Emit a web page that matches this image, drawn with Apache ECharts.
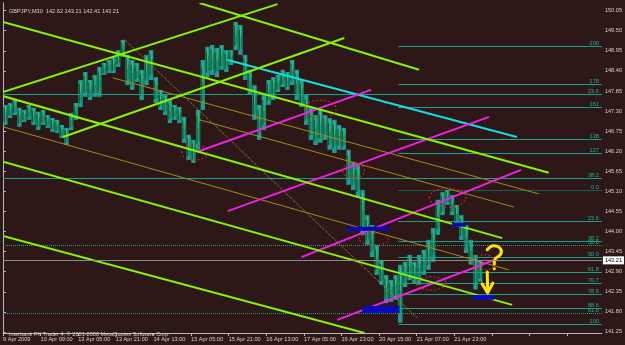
<!DOCTYPE html>
<html><head><meta charset="utf-8">
<style>html,body{margin:0;padding:0;background:#2e1717}#c{width:625px;height:345px}</style>
<script src="https://cdn.jsdelivr.net/npm/echarts@6.0.0/dist/echarts.min.js"></script>
</head><body><div id="c"></div>
<script>
// ---- data (x in 2-hour bar units, y in price) ----
const xTickLabels = ['9 Apr 2009','10 Apr 09:00','13 Apr 05:00','13 Apr 21:00','14 Apr 13:00','15 Apr 05:00','15 Apr 21:00','16 Apr 13:00','17 Apr 05:00','19 Apr 23:00','20 Apr 15:00','21 Apr 07:00','21 Apr 23:00'];
const priceTicks = [141.25,141.80,142.35,142.90,143.45,144.00,144.55,145.10,145.65,146.20,146.75,147.30,147.85,148.40,148.95,149.50,150.05];
const headerText = 'GBPJPY,M30  142.62 143.21 142.41 143.21';
const footerText = 'Interbank FX Trader 4, \u00a9 2001-2008 MetaQuotes Software Corp.';
const lastPrice = 143.21;

const barHigh = [147.47,147.52,147.60,147.39,147.33,147.47,147.39,147.28,147.33,147.19,
147.11,147.06,146.92,146.84,147.25,147.52,148.15,148.37,148.15,148.29,
148.51,148.62,148.70,148.78,148.97,149.25,148.84,148.70,148.62,148.43,
148.84,148.97,148.23,147.88,147.74,147.60,147.47,147.41,147.14,146.65,
146.51,147.33,148.70,149.06,149.11,149.03,149.11,148.97,148.97,149.74,
149.66,148.84,148.43,148.01,147.47,147.74,148.15,148.23,148.29,148.43,
148.37,148.70,148.43,148.15,147.74,147.41,147.19,147.33,147.19,147.11,
147.06,146.92,146.84,146.24,145.91,145.82,145.14,144.45,144.18,143.63,
143.22,142.81,142.67,142.81,143.09,143.17,143.36,143.17,143.36,143.50,
143.77,144.10,144.87,145.08,145.14,145.00,144.73,144.45,144.18,143.77,
143.36,143.21];
const barLow = [146.92,147.11,147.19,146.87,147.00,147.06,146.92,146.78,146.92,146.84,
146.73,146.70,146.56,146.37,146.78,147.06,147.41,147.69,147.60,147.69,
147.69,148.29,148.34,148.34,148.51,148.78,148.01,147.88,148.10,147.60,
148.01,148.15,147.52,147.33,147.19,146.97,147.06,146.97,146.43,145.96,
145.88,146.24,147.33,148.23,148.29,148.23,148.43,148.37,148.56,148.97,
148.84,148.15,147.74,147.06,146.51,146.78,147.47,147.60,147.82,147.96,
147.88,148.01,147.60,147.41,146.92,146.51,146.37,146.43,146.51,146.24,
146.15,146.24,146.24,145.28,145.14,144.95,143.91,143.63,143.30,142.81,
142.54,142.04,142.07,142.13,141.50,142.48,142.67,142.59,142.54,142.81,
142.95,143.17,143.91,144.45,144.73,144.45,144.18,143.77,143.41,143.09,
142.41,142.62];

// trend lines: [x1, p1, x2, p2]
const limeLines = [
  [0, 147.82, 58.4, 150.23],
  [12.74, 146.59, 72.6, 149.30],
  [41.8, 150.26, 88.5, 148.43],
  [0, 149.74, 116.1, 145.61],
  [0, 147.71, 106.2, 143.82],
  [0, 145.91, 108.3, 141.99],
  [0, 143.88, 76.9, 141.22]
];
const oliveLines = [
  [23.35, 148.21, 114.0, 145.03],
  [0, 146.87, 107.6, 142.95],
  [41.8, 147.06, 108.7, 144.67]
];
const steepLines = [[25.9, 149.25, 88.1, 141.63]];
const magentaLines = [
  [41.2, 146.18, 78.3, 147.88],
  [47.8, 144.56, 103.4, 147.14],
  [63.5, 143.30, 110.2, 145.69],
  [71.1, 141.58, 104.5, 143.22]
];
const cyanLines = [[47.8, 148.70, 109.3, 146.59]];

// Fibonacci levels
const fibBStart = 84.1;
const fibBLevels = [149.08,148.03,147.40,146.54,146.14,145.13,144.28,143.75,143.31,142.89,142.58,142.28,141.91,141.48];
const fibBLabels = ['200','178','161','138','127','0.0','23.6','38.2','50.0','61.8','70.7','78.6','88.6','100'];
const fibALevels = [147.76,145.46,143.62,141.76];
const fibALabels = ['23.6','38.2','50.0','61.8'];

// boxes: [x1, x2, pTop, pBottom]
const blueBoxes = [
  [73.2, 82.2, 144.13, 144.02],
  [95.5, 98.5, 144.24, 144.13],
  [76.4, 84.3, 141.96, 141.77],
  [99.8, 104.5, 142.26, 142.13]
];
const redEllipses = [
  [38.0, 43.5, 146.37, 145.96],
  [64.1, 70.9, 147.60, 147.11],
  [72.2, 76.9, 145.88, 145.47],
  [75.8, 82.0, 143.95, 143.63],
  [90.7, 98.5, 145.19, 144.67],
  [87.9, 94.3, 142.76, 142.40],
  [99.8, 104.9, 143.36, 142.95]
];
// hand-drawn yellow marks: polylines of [x, p]
const questionPath = [[103.0,143.50],[104.2,143.61],[105.7,143.55],[105.9,143.39],[104.7,143.25],[104.5,143.11]];
const questionDot = [104.5, 142.98];
const arrowShaft = [[103.0,142.89],[103.1,142.34]];
const arrowHead = [[101.9,142.57],[103.1,142.32],[104.2,142.59]];

// ---- chart ----
const X_MAX = 127.39, Y_MIN = 141.22, Y_MAX = 150.26;
const FONT = '"Liberation Sans", Arial, sans-serif';
const txt = '#d4d4d4';
const chart = echarts.init(document.getElementById('c'));

function segSeries(data, color, width, dash) {
  return {
    type: 'custom', coordinateSystem: 'cartesian2d', clip: true, silent: true,
    encode: {x: [0, 2], y: [1, 3]}, data: data,
    renderItem: function (params, api) {
      const a = api.coord([api.value(0), api.value(1)]);
      const b = api.coord([api.value(2), api.value(3)]);
      return {type: 'line', shape: {x1: a[0], y1: a[1], x2: b[0], y2: b[1]},
        style: {stroke: color, lineWidth: width, lineDash: dash || null}};
    }
  };
}
function fibSeries(start, levels, labels, dashed) {
  return {
    type: 'custom', coordinateSystem: 'cartesian2d', clip: true, silent: true,
    encode: {x: 0, y: 1}, data: levels.map(p => [start, p]),
    renderItem: function (params, api) {
      const a = api.coord([api.value(0), api.value(1)]);
      const b = api.coord([X_MAX, api.value(1)]);
      const y = Math.round(a[1]) + 0.5;
      const d = dashed[params.dataIndex];
      return {type: 'group', children: [
        {type: 'line', shape: {x1: a[0], y1: y, x2: b[0], y2: y},
          style: {stroke: '#17a08c', lineWidth: 1, lineDash: d ? [1, 1] : null}},
        {type: 'text', style: {text: labels[params.dataIndex], x: b[0] - 3, y: y - 0.5,
          fill: '#1fb09c', font: '5.6px ' + FONT, align: 'right', verticalAlign: 'bottom',
          textAlign: 'right', textVerticalAlign: 'bottom'}}
      ]};
    }
  };
}

const option = {
  backgroundColor: '#2e1717',
  animation: false,
  title: [
    {text: headerText, left: 4, top: 3, textStyle: {color: txt, fontSize: 5.6, fontWeight: 'normal', fontFamily: FONT}},
    {text: footerText, left: 4, top: 326, textStyle: {color: txt, fontSize: 5.6, fontWeight: 'normal', fontFamily: FONT}}
  ],
  grid: {left: 3, right: 22, top: 3, bottom: 12, containLabel: false},
  xAxis: {
    type: 'value', min: 0, max: X_MAX, interval: 8,
    axisLine: {show: true, lineStyle: {color: '#b8b8b8', width: 1}},
    axisTick: {show: true, length: 3, lineStyle: {color: '#b8b8b8'}},
    splitLine: {show: false},
    axisLabel: {color: txt, fontSize: 5.6, fontFamily: FONT, margin: 3, align: 'left',
      showMaxLabel: false,
      formatter: v => xTickLabels[Math.round(v / 8)] || ''}
  },
  yAxis: [{
    type: 'value', position: 'right', min: Y_MIN, max: Y_MAX,
    axisLine: {show: true, lineStyle: {color: '#b8b8b8', width: 1}},
    axisTick: {show: true, length: 3, inside: false, customValues: priceTicks, lineStyle: {color: '#b8b8b8'}},
    splitLine: {show: false},
    axisLabel: {color: txt, fontSize: 5.6, fontFamily: FONT, margin: 3, customValues: priceTicks,
      formatter: v => v.toFixed(2)}
  }, {
    type: 'value', position: 'left', min: Y_MIN, max: Y_MAX,
    axisLine: {show: true, lineStyle: {color: '#b8b8b8', width: 1}},
    axisTick: {show: false}, axisLabel: {show: false}, splitLine: {show: false}
  }],
  series: [
    // price bars
    {
      type: 'custom', coordinateSystem: 'cartesian2d', clip: true, silent: true,
      encode: {x: 0, y: [1, 2]},
      data: barHigh.map((h, i) => [i + 0.5, h, barLow[i]]),
      renderItem: function (params, api) {
        const hi = api.coord([api.value(0), api.value(1)]);
        const lo = api.coord([api.value(0), api.value(2)]);
        const w = 4.4, h = Math.max(1, lo[1] - hi[1]);
        return {type: 'group', children: [
          {type: 'rect', shape: {x: hi[0] - w / 2, y: hi[1], width: w, height: h}, style: {fill: '#1d9c90'}},
          {type: 'rect', shape: {x: hi[0] - w / 2 + 0.5, y: hi[1] + h * 0.15, width: 1.2, height: h * 0.7}, style: {fill: '#0c5c2c'}},
          {type: 'rect', shape: {x: hi[0] + 0.8, y: hi[1] + h * 0.3, width: 1, height: h * 0.5}, style: {fill: '#177a3e'}},
          {type: 'rect', shape: {x: hi[0] - 0.3, y: hi[1] + h * 0.05, width: 0.8, height: h * 0.4}, style: {fill: '#3cc87a'}}
        ]};
      }
    },
    fibSeries(0, fibALevels, fibALabels, [false, false, true, true]),
    fibSeries(fibBStart, fibBLevels, fibBLabels, [false,false,false,false,false,true,false,false,false,false,false,false,false,false]),
    // current price line + box
    {
      type: 'line', data: [], silent: true,
      markLine: {symbol: 'none', silent: true, animation: false,
        data: [{yAxis: lastPrice}],
        lineStyle: {color: '#8a8a8a', width: 1, type: 'solid'},
        label: {position: 'end', formatter: lastPrice.toFixed(2), backgroundColor: '#ffffff',
          color: '#000', fontSize: 5.6, fontFamily: FONT, padding: [1, 2], distance: 1}}
    },
    segSeries(oliveLines, '#a08c1c', 1),
    segSeries(steepLines, '#a09a40', 1, [1, 1]),
    segSeries(cyanLines, '#10e0e0', 2),
    segSeries(magentaLines, '#f020e8', 2),
    segSeries(limeLines, '#86f500', 2),
    // blue boxes
    {
      type: 'custom', coordinateSystem: 'cartesian2d', clip: true, silent: true,
      encode: {x: [0, 1], y: [2, 3]}, data: blueBoxes,
      renderItem: function (params, api) {
        const a = api.coord([api.value(0), api.value(2)]);
        const b = api.coord([api.value(1), api.value(3)]);
        return {type: 'rect', shape: {x: a[0], y: a[1], width: b[0] - a[0], height: b[1] - a[1]}, style: {fill: '#0a0ab8'}};
      }
    },
    // red dotted ellipses
    {
      type: 'custom', coordinateSystem: 'cartesian2d', clip: true, silent: true,
      encode: {x: [0, 1], y: [2, 3]}, data: redEllipses,
      renderItem: function (params, api) {
        const a = api.coord([api.value(0), api.value(2)]);
        const b = api.coord([api.value(1), api.value(3)]);
        return {type: 'ellipse', shape: {cx: (a[0] + b[0]) / 2, cy: (a[1] + b[1]) / 2, rx: (b[0] - a[0]) / 2, ry: (b[1] - a[1]) / 2},
          style: {fill: null, stroke: '#e02828', lineWidth: 1.2, lineDash: [1.5, 2.5]}};
      }
    },
    // yellow hand-drawn marks
    {
      type: 'custom', coordinateSystem: 'cartesian2d', clip: true, silent: true,
      encode: {x: 0, y: 1}, data: [questionDot],
      renderItem: function (params, api) {
        const pts = questionPath.map(p => api.coord(p));
        const dot = api.coord(questionDot);
        const sh = arrowShaft.map(p => api.coord(p));
        const hd = arrowHead.map(p => api.coord(p));
        const st = {stroke: '#ffe400', lineWidth: 3, fill: null, lineCap: 'round', lineJoin: 'round'};
        return {type: 'group', children: [
          {type: 'polyline', shape: {points: pts, smooth: 0.4}, style: st},
          {type: 'circle', shape: {cx: dot[0], cy: dot[1], r: 1.6}, style: {fill: '#ffe400'}},
          {type: 'polyline', shape: {points: sh}, style: st},
          {type: 'polyline', shape: {points: hd}, style: st}
        ]};
      }
    }
  ]
};
chart.setOption(option);
</script>
</body></html>
